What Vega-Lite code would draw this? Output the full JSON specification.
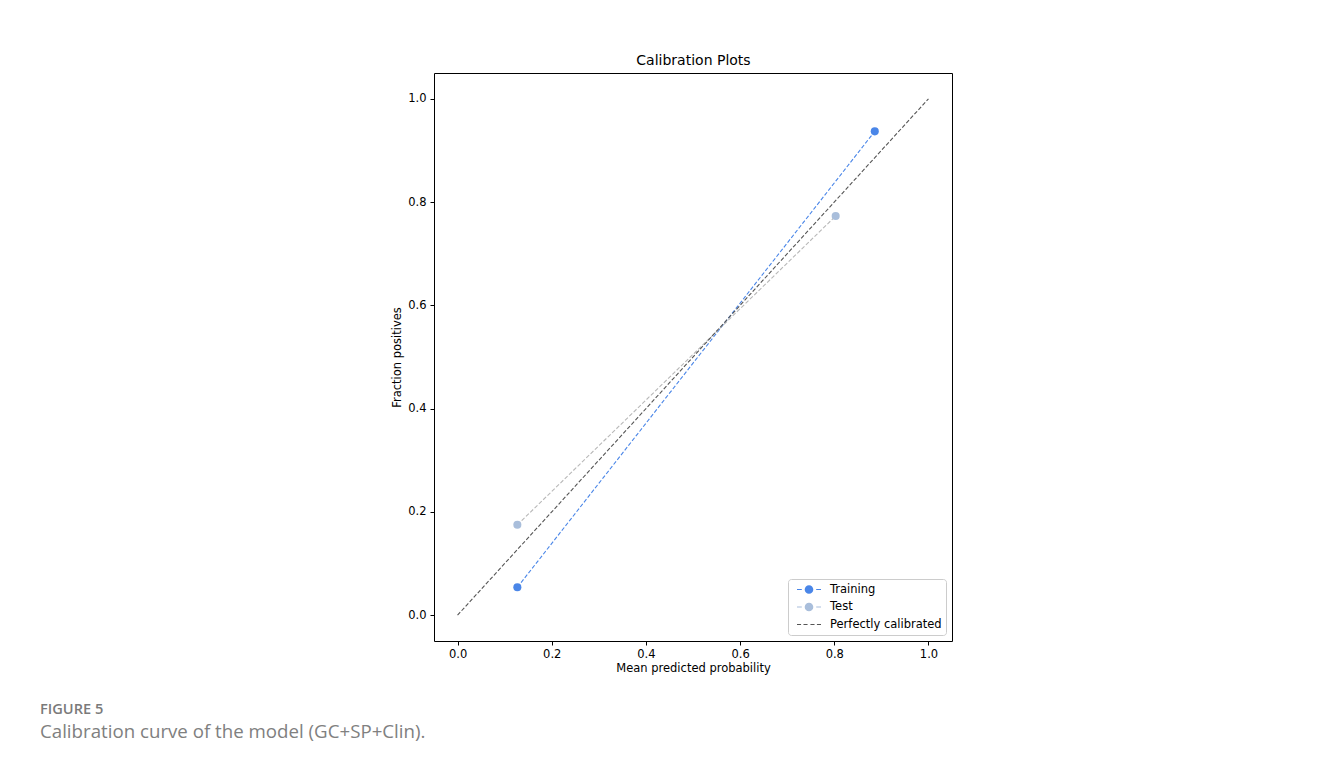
{
  "$schema": "https://vega.github.io/schema/vega-lite/v6.json",
  "autosize": {"type": "none"},
  "padding": {"left": 434, "top": 73, "right": 370, "bottom": 121},
  "width": 518,
  "height": 568,
  "background": "#ffffff",
  "config": {
    "view": {"stroke": "#000000", "strokeWidth": 1},
    "axis": {
      "domain": false,
      "grid": false,
      "ticks": true,
      "tickColor": "#000000",
      "tickSize": 4,
      "tickWidth": 1,
      "labelFont": "DejaVu Sans",
      "labelFontSize": 11.5,
      "labelColor": "#000000",
      "titleFont": "DejaVu Sans",
      "titleFontSize": 11.5,
      "titleFontWeight": "normal",
      "titleColor": "#000000"
    }
  },
  "title": {
    "text": "FIGURE 5",
    "subtitle": "Calibration curve of the model (GC+SP+Clin).",
    "orient": "bottom",
    "anchor": "start",
    "frame": "group",
    "dx": -394,
    "offset": 28,
    "font": "Open Sans",
    "fontSize": 14.6,
    "fontWeight": 600,
    "color": "#7a7a7a",
    "subtitleFont": "Open Sans",
    "subtitleFontSize": 18.7,
    "subtitleColor": "#808080",
    "subtitlePadding": 6
  },
  "datasets": {
    "curves": [
      {"series": "Training", "x": 0.127, "y": 0.054},
      {"series": "Training", "x": 0.886, "y": 0.937},
      {"series": "Test", "x": 0.127, "y": 0.175},
      {"series": "Test", "x": 0.803, "y": 0.773},
      {"series": "Perfectly calibrated", "x": 0.0, "y": 0.0},
      {"series": "Perfectly calibrated", "x": 1.0, "y": 1.0}
    ],
    "legendKeys": [
      {"series": "Training"},
      {"series": "Test"},
      {"series": "Perfectly calibrated"}
    ]
  },
  "data": {"name": "curves"},
  "layer": [
    {
      "mark": {"type": "line", "strokeWidth": 1.1, "strokeDash": [4, 2]},
      "encoding": {
        "x": {
          "field": "x", "type": "quantitative",
          "scale": {"domain": [-0.05, 1.05], "nice": false, "zero": false},
          "axis": {"values": [0, 0.2, 0.4, 0.6, 0.8, 1.0], "format": ".1f", "title": "Mean predicted probability", "labelPadding": 3, "titlePadding": 3}
        },
        "y": {
          "field": "y", "type": "quantitative",
          "scale": {"domain": [-0.05, 1.05], "nice": false, "zero": false},
          "axis": {"values": [0, 0.2, 0.4, 0.6, 0.8, 1.0], "format": ".1f", "title": "Fraction positives", "labelPadding": 4, "titlePadding": 5}
        },
        "stroke": {
          "field": "series", "type": "nominal",
          "scale": {"domain": ["Perfectly calibrated", "Test", "Training"], "range": ["#555555", "#b8b8b8", "#4a86e8"]},
          "legend": null
        },
        "order": {"field": "x", "type": "quantitative"}
      }
    },
    {
      "transform": [{"filter": "datum.series !== 'Perfectly calibrated'"}],
      "mark": {"type": "point", "filled": true, "opacity": 1, "size": 65, "shape": "circle"},
      "encoding": {
        "x": {"field": "x", "type": "quantitative", "axis": null},
        "y": {
          "field": "y", "type": "quantitative",
          "axis": {"values": [0, 0.2, 0.4, 0.6, 0.8, 1.0], "format": ".1f", "title": "Fraction positives", "labelPadding": 4, "titlePadding": 5}
        },
        "fill": {
          "field": "series", "type": "nominal",
          "scale": {"domain": ["Training", "Test"], "range": ["#4a86e8", "#a9bedb"]},
          "legend": null
        }
      }
    },
    {
      "data": {"name": "legendKeys"},
      "mark": {"type": "point", "filled": true, "opacity": 1},
      "encoding": {
        "x": {
          "field": "x", "type": "quantitative",
          "axis": {"orient": "top", "title": "Calibration Plots", "labels": false, "ticks": false, "domain": false, "titleFontSize": 14, "titlePadding": 6}
        },
        "y": {
          "field": "y", "type": "quantitative",
          "axis": {"values": [0, 0.2, 0.4, 0.6, 0.8, 1.0], "format": ".1f", "title": "Fraction positives", "labelPadding": 4, "titlePadding": 5}
        },
        "color": {
          "field": "series", "type": "nominal",
          "scale": {"domain": ["Training", "Test", "Perfectly calibrated"], "range": ["#4a86e8", "#a9bedb", "#555555"]},
          "legend": {
            "orient": "bottom-right", "offset": 6, "title": null,
            "strokeColor": "#cccccc", "fillColor": "#ffffff", "cornerRadius": 3, "padding": 4,
            "symbolSize": 576, "clipHeight": 13, "rowPadding": 4.5, "symbolOffset": 5,
            "labelFont": "DejaVu Sans", "labelFontSize": 11.5, "labelColor": "#000000", "labelOffset": 9,
            "symbolStrokeWidth": 0
          }
        },
        "shape": {
          "field": "series", "type": "nominal",
          "scale": {
            "domain": ["Training", "Test", "Perfectly calibrated"],
            "range": [
              "M-1,-0.05H-0.6V0.05H-1Z M0.6,-0.05H1V0.05H0.6Z M-0.36,0A0.36,0.36,0,1,0,0.36,0A0.36,0.36,0,1,0,-0.36,0Z",
              "M-1,-0.05H-0.6V0.05H-1Z M0.6,-0.05H1V0.05H0.6Z M-0.36,0A0.36,0.36,0,1,0,0.36,0A0.36,0.36,0,1,0,-0.36,0Z",
              "M-1,-0.05H-0.66V0.05H-1Z M-0.46,-0.05H-0.12V0.05H-0.46Z M0.12,-0.05H0.46V0.05H0.12Z M0.66,-0.05H1V0.05H0.66Z"
            ]
          },
          "legend": {
            "orient": "bottom-right", "offset": 6, "title": null,
            "strokeColor": "#cccccc", "fillColor": "#ffffff", "cornerRadius": 3, "padding": 4,
            "symbolSize": 576, "clipHeight": 13, "rowPadding": 4.5, "symbolOffset": 5,
            "labelFont": "DejaVu Sans", "labelFontSize": 11.5, "labelColor": "#000000", "labelOffset": 9,
            "symbolStrokeWidth": 0
          }
        }
      }
    }
  ],
  "resolve": {"axis": {"x": "independent"}}
}
